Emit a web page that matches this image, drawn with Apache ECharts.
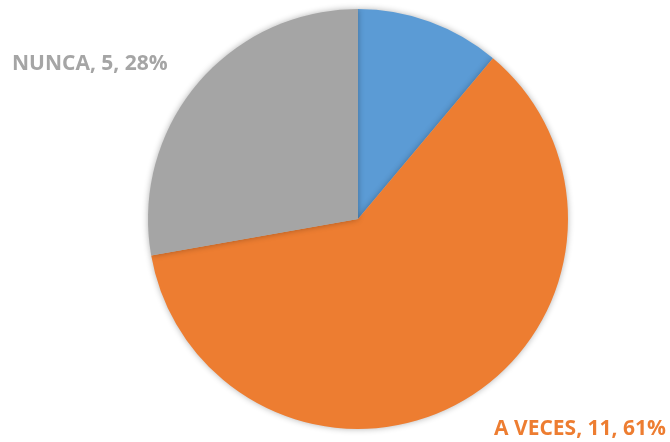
<!DOCTYPE html>
<html>
<head>
<meta charset="utf-8">
<script src="https://cdn.jsdelivr.net/npm/echarts@6/dist/echarts.min.js"></script>
<style>
  html, body { margin: 0; padding: 0; background: #fff; }
  #chart { width: 670px; height: 442px; }
</style>
</head>
<body>
<div id="chart"></div>
<script>
var names = ['SIEMPRE', 'A VECES', 'NUNCA'];
var values = [2, 11, 5];
var colors = ['#5B9BD5', '#ED7D31', '#A5A5A5'];
// where each label sits (blue one is cut off in the original)
var labelSpots = [null, {x: 666, y: 429, align: 'right'}, {x: 12, y: 64, align: 'left'}];

var mychart = echarts.init(document.getElementById('chart'));
var data = [];
for (var i = 0; i < names.length; i++) {
  data.push({
    name: names[i],
    value: values[i],
    itemStyle: {color: colors[i]},
    label: {show: i > 0, color: colors[i]}
  });
}
var option = {
  animation: false,
  series: [{
    type: 'pie',
    center: [358, 219],
    radius: 210,
    startAngle: 90,
    clockwise: true,
    itemStyle: {
      borderWidth: 0,
      shadowBlur: 6,
      shadowColor: 'rgba(0,0,0,0.3)'
    },
    label: {
      position: 'outside',
      alignTo: 'none',
      overflow: 'none',
      fontFamily: 'Open Sans',
      fontWeight: 'bold',
      fontSize: 21,
      formatter: function (p) {
        return p.name + ', ' + p.value + ', ' + Math.round(p.percent) + '%';
      }
    },
    labelLine: {show: false},
    labelLayout: function (params) {
      var s = labelSpots[params.dataIndex];
      if (!s) return {};
      return {x: s.x, y: s.y, align: s.align, verticalAlign: 'middle'};
    },
    data: data
  }]
};
mychart.setOption(option);
</script>
</body>
</html>
